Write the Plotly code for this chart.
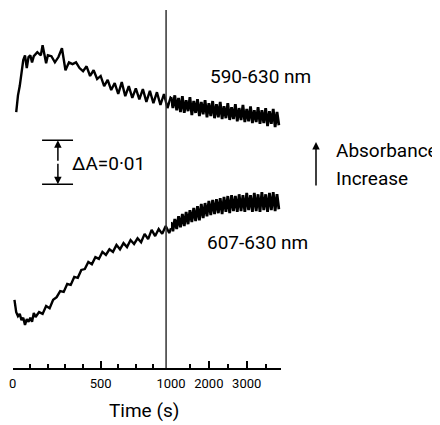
import numpy as np
import plotly.graph_objects as go

# time (s) and absorbance change (units of 1e-3 A)
time_590 = [
    20, 25, 30, 40, 50, 60, 70, 80, 90, 100, 110, 120, 140, 160, 170, 180, 190, 200,
    220, 240, 260, 280, 290, 300, 320, 340, 360, 380, 400, 420, 440, 460, 480, 500,
    520, 540, 560, 580, 600, 620, 640, 660, 680, 700, 720, 740, 760, 780, 800, 820,
    840, 860, 880, 900,
    1000, 1050, 1100, 1150, 1200, 1250, 1300, 1350, 1400, 1450, 1500, 1550, 1600,
    1650, 1700, 1750, 1800, 1850, 1900, 1950, 2000, 2050, 2100, 2150, 2200, 2250,
    2300, 2350, 2400, 2450, 2500, 2550, 2600, 2650, 2700, 2750, 2800, 2850, 2900,
    2950, 3000, 3050, 3100, 3150, 3200, 3250, 3300, 3350, 3400, 3450, 3500, 3550,
    3600, 3650, 3700, 3750, 3800, 3850,
]
dA_590 = [
    58.2, 60.9, 62.0, 64.1, 66.6, 70.0, 71.1, 68.2, 70.7, 71.1, 69.5, 70.9, 71.8, 71.1,
    73.4, 71.6, 69.3, 71.1, 70.9, 69.5, 70.7, 72.7, 70.5, 67.7, 69.5, 69.1, 69.5, 68.2,
    67.5, 68.6, 66.4, 67.7, 65.7, 66.4, 64.1, 65.5, 63.2, 64.8, 62.3, 65.0, 61.8, 64.1,
    61.4, 63.6, 61.1, 63.4, 60.5, 63.0, 60.2, 62.7, 59.8, 62.3, 59.1, 61.8,
    61.6, 59.1, 62.0, 58.6, 61.4, 58.2, 61.8, 58.0, 60.9, 58.4, 61.6, 57.5, 60.7, 58.0,
    61.1, 57.3, 60.5, 57.7, 60.9, 57.0, 60.2, 57.3, 60.7, 56.8, 60.0, 57.0, 60.5, 56.6,
    59.5, 56.8, 60.2, 56.4, 59.3, 56.6, 60.0, 56.1, 59.1, 56.4, 59.8, 55.9, 58.9, 56.1,
    59.5, 55.7, 58.6, 55.9, 59.3, 55.5, 58.6, 55.7, 59.1, 55.0, 58.4, 55.5, 58.9, 54.8,
    58.2, 55.2,
]

time_607 = [
    10, 20, 30, 40, 50, 60, 70, 80, 90, 100, 110, 120, 130, 150, 170, 190, 210, 230,
    250, 270, 290, 310, 330, 350, 370, 390, 410, 430, 450, 470, 490, 510, 530, 550,
    570, 590, 610, 630, 650, 670, 690, 710, 730, 750, 770, 790, 810, 830, 850, 870,
    890, 900,
    1000, 1050, 1100, 1150, 1200, 1250, 1300, 1350, 1400, 1450, 1500, 1550, 1600,
    1650, 1700, 1750, 1800, 1850, 1900, 1950, 2000, 2050, 2100, 2150, 2200, 2250,
    2300, 2350, 2400, 2450, 2500, 2550, 2600, 2650, 2700, 2750, 2800, 2850, 2900,
    2950, 3000, 3050, 3100, 3150, 3200, 3250, 3300, 3350, 3400, 3450, 3500, 3550,
    3600, 3650, 3700, 3750, 3800, 3850,
]
dA_607 = [
    15.5, 12.7, 11.8, 12.3, 10.9, 11.4, 9.8, 11.1, 10.5, 11.4, 10.5, 12.5, 11.6, 12.7,
    12.3, 14.1, 13.6, 15.5, 16.1, 17.5, 17.3, 19.1, 18.9, 20.7, 20.5, 22.3, 22.5, 24.1,
    23.6, 25.2, 24.8, 26.4, 25.7, 27.0, 26.4, 28.0, 27.0, 28.4, 27.5, 29.1, 28.2, 29.5,
    28.6, 30.5, 29.3, 31.4, 30.0, 31.6, 30.5, 32.3, 30.7, 31.8,
    33.2, 31.1, 33.9, 31.6, 34.5, 32.0, 35.0, 32.3, 35.5, 32.7, 35.9, 33.2, 36.4, 33.4,
    36.8, 33.6, 37.3, 34.1, 37.5, 34.5, 38.0, 34.8, 38.2, 35.0, 38.4, 35.2, 38.6, 35.0,
    38.9, 35.5, 39.1, 35.2, 39.3, 35.7, 39.1, 35.5, 39.5, 35.7, 39.3, 35.5, 39.8, 35.9,
    39.3, 35.5, 39.8, 35.7, 39.5, 35.5, 40.0, 35.9, 39.5, 35.5, 39.8, 35.9, 40.0, 35.7,
    39.5, 36.1,
]

# the time axis is drawn in two parts: a fast sweep and a slow sweep
early_ticks = [0, 500]
late_ticks = [1000, 2000, 3000]
early_range = [0, 900]
late_range = [1000, 3900]
break_time = 872  # vertical marker line

FONT = "Roboto, sans-serif"
W, H = 440, 425
OFF = 8  # page body margin


def px(x):
    return (x - OFF) / W


def py(y):
    return (H - (y - OFF)) / H


fig = go.Figure()
for t, a in [(time_590, dA_590), (time_607, dA_607)]:
    t = np.array(t)
    a = np.array(a)
    early = t <= early_range[1]
    late = t >= late_range[0]
    fig.add_trace(go.Scatter(x=t[early], y=a[early], mode="lines",
                             line=dict(color="black", width=2.4), xaxis="x", yaxis="y"))
    fig.add_trace(go.Scatter(x=t[late], y=a[late], mode="lines",
                             line=dict(color="black", width=2.8), xaxis="x2", yaxis="y"))

axis_common = dict(
    showgrid=False, zeroline=False, showline=True, linecolor="black", linewidth=1.5,
    ticks="inside", tickcolor="black", tickwidth=1.5, ticklen=7, ticklabelstandoff=3,
    tickfont=dict(family=FONT, size=13, color="black"), anchor="y",
)
fig.update_layout(
    width=W, height=H,
    margin=dict(l=0, r=0, t=0, b=0, autoexpand=False),
    paper_bgcolor="white", plot_bgcolor="white",
    showlegend=False,
    xaxis=dict(domain=[px(12.7), px(171)], range=early_range,
               tickvals=early_ticks,
               minor=dict(dtick=100, tick0=0, ticks="inside", ticklen=4,
                          tickcolor="black", tickwidth=1.5, showgrid=False),
               **axis_common),
    xaxis2=dict(domain=[px(171), px(280.8)], range=late_range,
                tickvals=late_ticks,
                minor=dict(dtick=500, tick0=1000, ticks="inside", ticklen=4,
                           tickcolor="black", tickwidth=1.5, showgrid=False),
                **axis_common),
    yaxis=dict(domain=[py(368), py(10)], range=[0, 81.4], visible=False),
)

# marker line at the change of sweep speed
fig.add_shape(type="line", xref="x", yref="y domain", x0=break_time, x1=break_time,
              y0=0, y1=1, line=dict(color="#333333", width=1.5))

# scale bar: delta A = 0.01 (10 units)
bar_t = 257
bar_lo, bar_hi = 41.8, 51.8
for y in (bar_lo, bar_hi):
    fig.add_shape(type="line", xref="x", yref="y", x0=167, x1=343, y0=y, y1=y,
                  line=dict(color="black", width=1.5))
mid = (bar_lo + bar_hi) / 2
for y in (bar_lo, bar_hi):
    fig.add_annotation(x=bar_t, y=y, ax=bar_t, ay=mid, xref="x", yref="y",
                       axref="x", ayref="y", showarrow=True, arrowhead=2,
                       arrowsize=1, arrowwidth=1.5, arrowcolor="black", text="")


def label(x, y, text, xanchor="center", size=19):
    fig.add_annotation(x=px(x), y=py(y), xref="paper", yref="paper", text=text,
                       showarrow=False, xanchor=xanchor, yanchor="middle",
                       font=dict(family=FONT, size=size, color="black"))


label(70, 163, "ΔA=0·01", xanchor="left")
label(261, 76, "590-630 nm")
label(257, 242.5, "607-630 nm")
label(334, 150.5, "Absorbance", xanchor="left")
label(334, 178.5, "Increase", xanchor="left")
label(144, 410, "Time (s)", size=19)
fig.add_annotation(x=px(316), y=py(142), ax=0, ay=45,
                   xref="paper", yref="paper", showarrow=True, arrowhead=2,
                   arrowsize=1, arrowwidth=1.5, arrowcolor="black", text="")

fig.write_html("out.html")
